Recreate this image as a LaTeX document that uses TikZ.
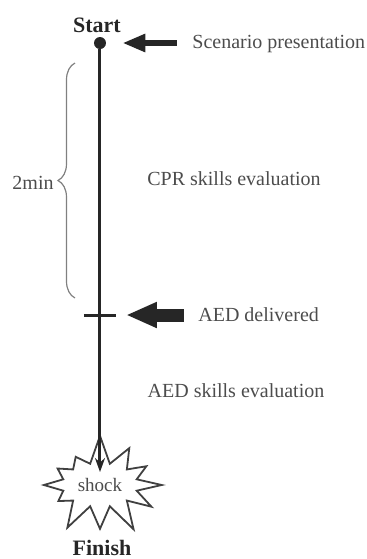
\documentclass[tikz,border=0pt]{standalone}
\usepackage{fontspec}
\setmainfont{Liberation Serif}
\usetikzlibrary{arrows.meta,shapes.symbols,decorations.pathreplacing}
\begin{document}
\begin{tikzpicture}[x=0.5pt,y=-0.5pt,
		lbl/.style={text=black!70,font=\fontsize{10}{12}\selectfont,inner sep=0pt},
		ends/.style={text=black!85,font=\fontsize{11}{13}\selectfont\bfseries,inner sep=0pt},
		fat/.style={draw=black!85,line width=#1}]
	\useasboundingbox (0,0) rectangle (366,559);
	\node(start)[ends] at (97,25) {Start};
	\node(dot)[circle,fill=black!85,minimum size=6pt,inner sep=0pt] at (100,43) {};
	\node(scen)[lbl,anchor=west] at (192,44) {Scenario presentation};
	\node(twomin)[lbl,anchor=east] at (54,183) {2min};
	\node(cpr)[lbl] at (234,179) {CPR skills evaluation};
	\coordinate(tick) at (100,315);
	\node(aed)[lbl,anchor=west] at (198,315) {AED delivered};
	\node(aedeval)[lbl] at (236,391) {AED skills evaluation};
	\node(shock)[lbl,font=\fontsize{9.5}{11}\selectfont,starburst,draw=black!75,line width=0.9pt,
		starburst points=12,starburst point height=15pt,random starburst=7,
		minimum width=68pt,minimum height=52pt,inner sep=1pt] at (100,485) {shock};
	\node(finish)[ends] at (102,548) {Finish};
	% time line
	\draw[fat=1.5pt,-{Stealth[length=7pt,width=5pt]},shorten >=6.5pt] (dot) -- (shock.center);
	\draw[fat=1.5pt] ([xshift=-8pt]tick) -- ([xshift=8pt]tick);
	\draw[decorate,decoration={brace,amplitude=8.5pt},draw=black!50,line width=0.6pt] (75,298) -- (75,63);
	% events
	\draw[fat=3pt,-{Triangle[length=11.5pt,width=8.5pt]},shorten <=7.5pt,shorten >=8pt] (scen.west |- dot.east) -- (dot.east);
	\draw[fat=6.5pt,-{Triangle[length=15.5pt,width=12pt]},shorten <=7pt,shorten >=13pt] (aed.west) -- (tick);
\end{tikzpicture}
\end{document}
